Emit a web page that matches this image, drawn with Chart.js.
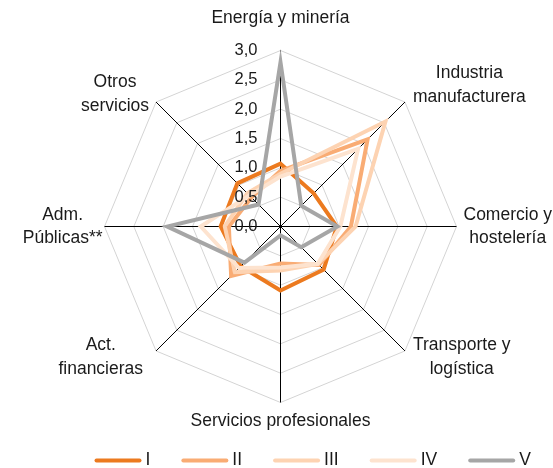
<!DOCTYPE html>
<html>
<head>
<meta charset="utf-8">
<title>Radar sectores</title>
<script src="https://cdn.jsdelivr.net/npm/chart.js@4.4.1/dist/chart.umd.min.js"></script>
<style>
  body { margin: 0; background: #fff; }
  canvas { display: block; }
</style>
</head>
<body>
<canvas id="radar" width="553" height="468"></canvas>
<script>
// categorias (sentido horario desde arriba), en lineas para la etiqueta
var categorias = [
  ['Energía y minería'],
  ['Industria', 'manufacturera'],
  ['Comercio y', 'hostelería'],
  ['Transporte y', 'logística'],
  ['Servicios profesionales'],
  ['Act.', 'financieras'],
  ['Adm.', 'Públicas**'],
  ['Otros', 'servicios']
];

var serieI   = [1.07, 0.80, 0.96, 1.04, 1.09, 0.96, 1.02, 1.04];
var serieII  = [0.95, 2.10, 1.20, 0.93, 0.63, 1.19, 0.88, 0.70];
var serieIII = [0.90, 2.53, 1.28, 0.90, 0.75, 1.10, 0.95, 0.80];
var serieIV  = [0.85, 1.87, 1.02, 0.90, 0.70, 1.00, 1.36, 0.75];
var serieV   = [2.80, 0.50, 0.97, 0.50, 0.15, 0.87, 1.93, 0.53];

var nombres = ['I', 'II', 'III', 'IV', 'V'];
var colores = ['#ec7a1f', '#f9ac74', '#fdd3b2', '#fde3cf', '#a6a6a6'];

var FUENTE = '"Liberation Sans", Arial, Helvetica, sans-serif';

var series = [serieI, serieII, serieIII, serieIV, serieV];
var datasets = series.map(function (s, i) {
  return {
    label: nombres[i],
    data: s,
    borderColor: colores[i],
    backgroundColor: colores[i],
    borderWidth: 4,
    pointRadius: 0,
    fill: false,
    order: 4 - i   // la V queda encima
  };
});

// textos: ejes, etiquetas y leyenda
var textos = {
  id: 'textos',
  beforeDraw: function (chart) {
    // medio pixel para que los ejes rectos salgan nitidos
    chart.ctx.save();
    chart.ctx.translate(0.5, 0.5);
  },
  afterDatasetsDraw: function (chart) {
    var r = chart.scales.r, ctx = chart.ctx;
    ctx.save();
    ctx.font = '16.5px ' + FUENTE;
    ctx.fillStyle = '#1a1a1a';
    ctx.textAlign = 'right';
    ctx.textBaseline = 'middle';
    r.ticks.forEach(function (t) {
      var y = r.yCenter - r.getDistanceFromCenterForValue(t.value);
      ctx.fillText(t.value.toFixed(1).replace('.', ','), r.xCenter - 23, y);
    });
    ctx.restore();
  },
  afterDraw: function (chart) {
    var r = chart.scales.r, ctx = chart.ctx;
    ctx.save();
    ctx.font = '17.5px ' + FUENTE;
    ctx.fillStyle = '#1a1a1a';
    ctx.textAlign = 'center';
    ctx.textBaseline = 'middle';
    // separacion horizontal y desplazamiento vertical de cada etiqueta
    var gap = [0, 8, 7, 8, 0, 13, 2, 7];
    var dy  = [-32, -17, 0, 6, 19, 6, 0, -8];
    var lh = 23.5;
    categorias.forEach(function (lineas, i) {
      var p = r.getPointPosition(i, r.drawingArea);
      var w = Math.max.apply(null, lineas.map(function (l) { return ctx.measureText(l).width; }));
      var x = p.x;
      if (p.x > r.xCenter + 1) x = p.x + gap[i] + w / 2;
      else if (p.x < r.xCenter - 1) x = p.x - gap[i] - w / 2;
      var y0 = p.y + dy[i] - (lineas.length - 1) * lh / 2;
      lineas.forEach(function (l, k) { ctx.fillText(l, x, y0 + k * lh); });
    });

    // leyenda
    ctx.textAlign = 'left';
    ctx.lineCap = 'round';
    ctx.lineWidth = 4;
    var x = 94, y = 460;
    chart.data.datasets.forEach(function (d) {
      ctx.strokeStyle = d.borderColor;
      ctx.beginPath();
      ctx.moveTo(x + 2, y);
      ctx.lineTo(x + 45, y);
      ctx.stroke();
      ctx.fillText(d.label, x + 51, y);
      x += 51 + ctx.measureText(d.label).width + 31;
    });
    ctx.restore();
    ctx.restore();
  }
};

new Chart(document.getElementById('radar'), {
  type: 'radar',
  data: { labels: categorias, datasets: datasets },
  options: {
    responsive: false,
    animation: false,
    layout: { padding: { left: 104, right: 97, top: 50, bottom: 66 } },
    plugins: { legend: { display: false }, tooltip: { enabled: false } },
    elements: { line: { tension: 0 } },
    scales: {
      r: {
        min: 0,
        max: 3,
        ticks: { stepSize: 0.5, display: false },
        pointLabels: { display: false },
        grid: { color: '#d4d4d4', lineWidth: 1 },
        angleLines: { color: '#000', lineWidth: 1 }
      }
    }
  },
  plugins: [textos]
});
</script>
</body>
</html>
